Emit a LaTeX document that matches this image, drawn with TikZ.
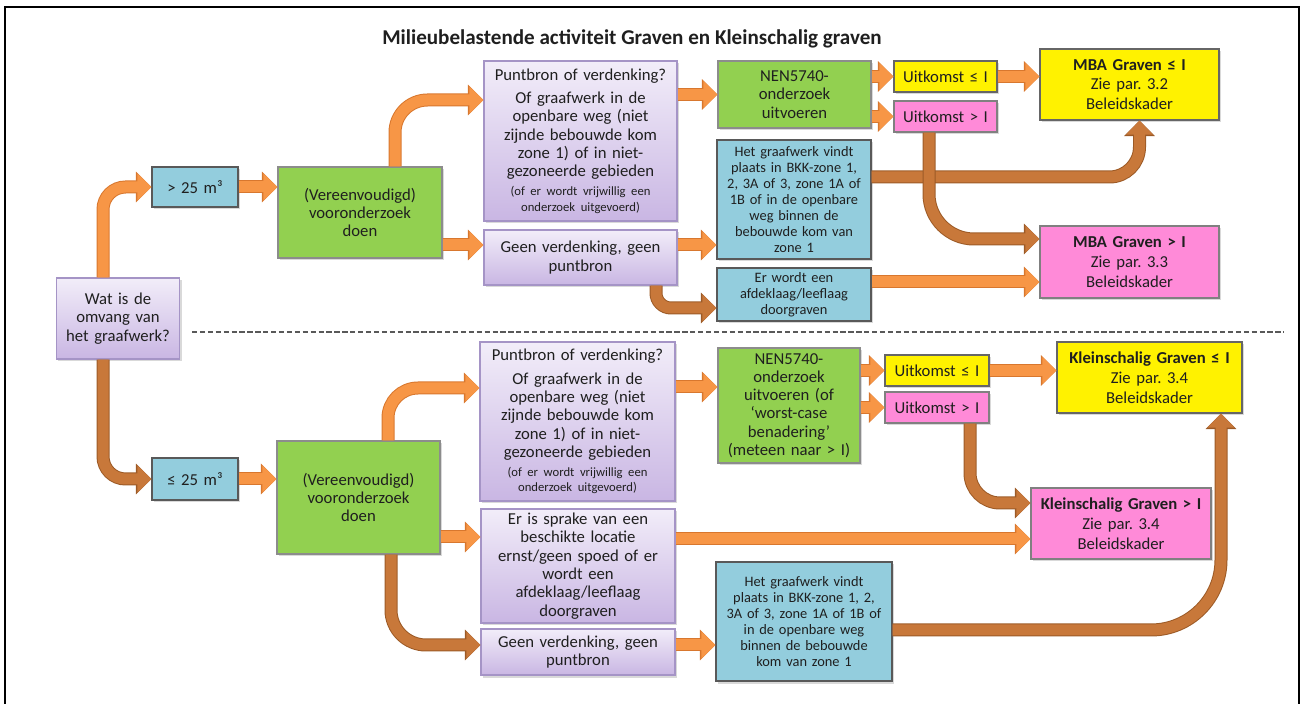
\documentclass[tikz,border=0pt]{standalone}
\usepackage{fontspec}
\setmainfont{Carlito}
\frenchspacing
\usetikzlibrary{arrows.meta,shadows}
\definecolor{paarsboven}{HTML}{F2EDF9}
\definecolor{paarsonder}{HTML}{C9B6E3}
\definecolor{paarsrand}{HTML}{A594C6}
\definecolor{groenvul}{HTML}{92D050}
\definecolor{blauwvul}{HTML}{93CDDD}
\definecolor{rozevul}{HTML}{FF8AD8}
\definecolor{oranje}{HTML}{F79646}
\definecolor{oranjerand}{HTML}{D8772E}
\definecolor{bruin}{HTML}{C8783A}
\definecolor{bruinrand}{HTML}{9C5A26}
\begin{document}
\begin{tikzpicture}[font=\fontsize{9.5}{10.4}\selectfont, text=black!88,
    box/.style 2 args={draw, line width=0.6pt, align=center, inner xsep=0pt, inner ysep=1pt,
        minimum width=#1, text width=#1, minimum height=#2,
        drop shadow={shadow xshift=0.04cm, shadow yshift=-0.05cm, opacity=0.3}},
    paars/.style={draw=paarsrand, top color=paarsboven, bottom color=paarsonder},
    groen/.style={draw=black!45, fill=groenvul},
    blauw/.style={draw=black!65, fill=blauwvul, font=\fontsize{8.2}{9.1}\selectfont},
    geel/.style={draw=black!60, fill=yellow},
    roze/.style={draw=black!50, fill=rozevul},
    uitslag/.style={font=\fontsize{9.5}{11.3}\selectfont},
    pijl/.style 2 args={draw=#1, line width=0.22cm, rounded corners=0.45cm,
        -{Triangle[length=0.28cm,width=0.52cm]},
        preaction={draw=#2, line width=0.26cm, -{Triangle[length=0.31cm,width=0.6cm]}}},
    licht/.style={pijl={oranje}{oranjerand}},
    donker/.style={pijl={bruin}{bruinrand}}]
    \useasboundingbox (0,0) rectangle (26.14,14.08);
    \draw[line width=1.2pt] (0.10,-0.5) -- (0.10,13.94) -- (25.98,13.94) -- (25.98,-0.5); % kader
    \node (titel) at (12.64,13.30) {\fontsize{12}{14}\selectfont\bfseries Milieubelastende activiteit Graven en Kleinschalig graven};
    \draw[black!65, line width=0.8pt, dash pattern=on 3pt off 1.5pt] (3.84,7.44) -- (25.68,7.44); % scheiding

    \node (wat) at (2.36,7.71) [box={2.46cm}{1.62cm}, paars] {Wat is de\\omvang van\\het graafwerk?};

    % boven: > 25 m3
    \node (gtA) at (3.90,10.34) [box={1.72cm}{0.80cm}, blauw, font=\fontsize{9.5}{10.4}\selectfont] {> 25 m³};
    \node (vooA) at (7.20,9.83) [box={3.28cm}{1.82cm}, groen] {(Vereenvoudigd)\\vooronderzoek\\doen};
    \node (puntA) at (11.61,11.26) [box={3.86cm}{3.20cm}, paars] {Puntbron of verdenking?\par\vspace{3pt}
        Of graafwerk in de\\openbare weg (niet\\zijnde bebouwde kom\\zone 1) of in niet-\\gezoneerde gebieden\par\vspace{2pt}
        {\fontsize{7.2}{8.8}\selectfont (of er wordt vrijwillig een\\onderzoek uitgevoerd)\par}};
    \node (geenA) at (11.61,8.93) [box={3.86cm}{1.10cm}, paars] {Geen verdenking, geen\\puntbron};
    \node (nenA) at (15.89,12.19) [box={3.06cm}{1.34cm}, groen] {NEN5740-\\onderzoek\\uitvoeren};
    \node (uitLeA) at (18.91,12.55) [box={2.06cm}{0.62cm}, geel] {Uitkomst ≤ I};
    \node (uitGtA) at (18.91,11.75) [box={2.06cm}{0.62cm}, roze] {Uitkomst > I};
    \node (mbaLe) at (22.59,12.39) [box={3.58cm}{1.42cm}, geel, uitslag] {\textbf{MBA Graven ≤ I}\\Zie par. 3.2\\Beleidskader};
    \node (bkkA) at (15.88,10.09) [box={3.08cm}{2.38cm}, blauw] {Het graafwerk vindt\\plaats in BKK-zone 1,\\2, 3A of 3, zone 1A of\\1B of in de openbare\\weg binnen de\\bebouwde kom van\\zone 1};
    \node (afdA) at (15.88,8.19) [box={3.08cm}{1.06cm}, blauw] {Er wordt een\\afdeklaag/leeflaag\\doorgraven};
    \node (mbaGt) at (22.59,8.84) [box={3.58cm}{1.44cm}, roze, uitslag] {\textbf{MBA Graven > I}\\Zie par. 3.3\\Beleidskader};

    % onder: <= 25 m3
    \node (leB) at (3.90,4.50) [box={1.72cm}{0.84cm}, blauw, font=\fontsize{9.5}{10.4}\selectfont] {≤ 25 m³};
    \node (vooB) at (7.17,4.13) [box={3.26cm}{2.26cm}, groen] {(Vereenvoudigd)\\vooronderzoek\\doen};
    \node (puntB) at (11.55,5.65) [box={3.90cm}{3.18cm}, paars] {Puntbron of verdenking?\par\vspace{3pt}
        Of graafwerk in de\\openbare weg (niet\\zijnde bebouwde kom\\zone 1) of in niet-\\gezoneerde gebieden\par\vspace{2pt}
        {\fontsize{7.2}{8.8}\selectfont (of er wordt vrijwillig een\\onderzoek uitgevoerd)\par}};
    \node (sprB) at (11.56,2.76) [box={3.88cm}{2.28cm}, paars] {Er is sprake van een\\beschikte locatie\\ernst/geen spoed of er\\wordt een\\afdeklaag/leeflaag\\doorgraven};
    \node (geenB) at (11.56,1.04) [box={3.88cm}{0.92cm}, paars] {Geen verdenking, geen\\puntbron};
    \node (nenB) at (15.78,5.97) [box={2.84cm}{2.30cm}, groen] {NEN5740-\\onderzoek\\uitvoeren (of\\‘worst-case\\benadering’\\(meteen naar > I)};
    \node (uitLeB) at (18.74,6.67) [box={2.08cm}{0.62cm}, geel] {Uitkomst ≤ I};
    \node (uitGtB) at (18.74,5.93) [box={2.08cm}{0.62cm}, roze] {Uitkomst > I};
    \node (kleinLe) at (22.99,6.53) [box={3.70cm}{1.42cm}, geel, uitslag] {\textbf{Kleinschalig Graven ≤ I}\\Zie par. 3.4\\Beleidskader};
    \node (kleinGt) at (22.42,3.61) [box={3.60cm}{1.42cm}, roze, uitslag] {\textbf{Kleinschalig Graven > I}\\Zie par. 3.4\\Beleidskader};
    \node (bkkB) at (16.08,1.65) [box={3.52cm}{2.38cm}, blauw] {Het graafwerk vindt\\plaats in BKK-zone 1, 2,\\3A of 3, zone 1A of 1B of\\in de openbare weg\\binnen de bebouwde\\kom van zone 1};

    % pijlen boven
    \draw[licht] ([xshift=-0.3cm]wat.north) |- (gtA.west);
    \draw[licht] (gtA.east) -- (gtA.east -| vooA.west);
    \draw[licht, rounded corners=0.65cm] ([xshift=0.7cm]vooA.north) |- ([yshift=0.82cm]puntA.west);
    \draw[licht] ([yshift=0.25cm]geenA.west -| vooA.east) -- ([yshift=0.25cm]geenA.west);
    \draw[licht] (puntA.east |- nenA.west) -- (nenA.west);
    \draw[licht] (nenA.east |- uitLeA.west) -- (uitLeA.west);
    \draw[licht] (nenA.east |- uitGtA.west) -- (uitGtA.west);
    \draw[licht] (uitLeA.east) -- (uitLeA.east -| mbaLe.west);
    \draw[licht] ([yshift=0.25cm]geenA.east) -- ([yshift=0.25cm]geenA.east -| bkkA.west);
    \draw[donker, rounded corners=0.3cm] ([xshift=1.51cm]geenA.south) |- ([yshift=-0.27cm]afdA.west);
    \draw[donker, rounded corners=0.6cm] ([yshift=0.45cm]bkkA.east) -| ([xshift=0.2cm]mbaLe.south);
    \draw[donker, rounded corners=0.9cm] ([xshift=-0.33cm]uitGtA.south) |- ([yshift=0.46cm]mbaGt.west);
    \draw[licht] ([yshift=0.25cm]afdA.east) -- ([yshift=0.25cm]afdA.east -| mbaGt.west);

    % pijlen onder
    \draw[donker] ([xshift=-0.3cm]wat.south) |- (leB.west);
    \draw[licht] (leB.east) -- (leB.east -| vooB.west);
    \draw[licht, rounded corners=0.6cm] ([xshift=0.59cm]vooB.north) |- ([yshift=0.67cm]puntB.west);
    \draw[licht] ([yshift=-0.79cm]vooB.east) -- ([yshift=-0.79cm]vooB.east -| sprB.west);
    \draw[donker, rounded corners=0.7cm] ([xshift=0.65cm]vooB.south) |- ([yshift=0.14cm]geenB.west);
    \draw[licht] ([yshift=0.37cm]nenB.west -| puntB.east) -- ([yshift=0.37cm]nenB.west);
    \draw[licht] (nenB.east |- uitLeB.west) -- (uitLeB.west);
    \draw[licht] (nenB.east |- uitGtB.west) -- (uitGtB.west);
    \draw[licht] (uitLeB.east) -- (uitLeB.east -| kleinLe.west);
    \draw[donker, rounded corners=0.6cm] ([xshift=0.66cm]uitGtB.south) |- ([yshift=0.41cm]kleinGt.west);
    \draw[licht] ([yshift=0.54cm]sprB.east) -- ([yshift=0.54cm]sprB.east -| kleinGt.west);
    \draw[licht] ([yshift=0.14cm]geenB.east) -- ([yshift=0.14cm]geenB.east -| bkkB.west);
    \draw[donker, rounded corners=1.4cm] ([yshift=-0.17cm]bkkB.east) -| ([xshift=1.43cm]kleinLe.south);
\end{tikzpicture}
\end{document}
